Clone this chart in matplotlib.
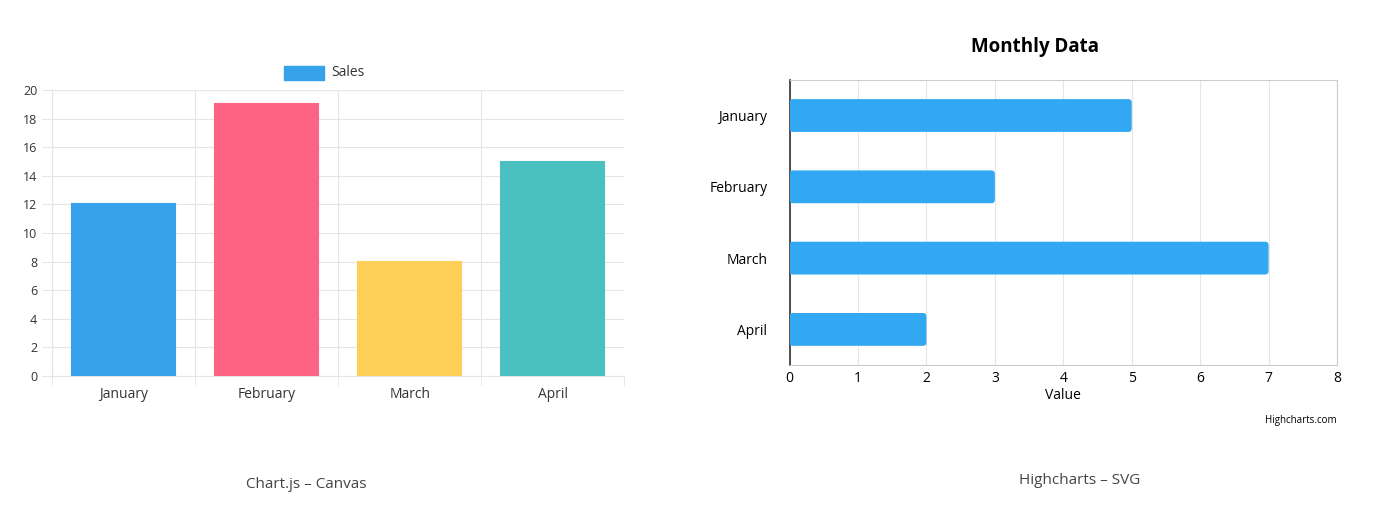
import matplotlib
matplotlib.use("Agg")
import matplotlib.pyplot as plt
from matplotlib.patches import FancyBboxPatch

months = ["January", "February", "March", "April"]
sales = [12, 19, 8, 15]
sales_colors = ["#36A2EB", "#FF6384", "#FFCE56", "#4BC0C0"]
hc_values = [5, 3, 7, 2]

plt.rcParams['font.family'] = ['Open Sans', 'DejaVu Sans']
fig = plt.figure(figsize=(14, 5.12), dpi=100)

# Left: Chart.js
ax = fig.add_axes([0.037, 0.266, 0.409, 0.558])
x = range(len(months))
ax.bar(x, sales, width=0.72, color=sales_colors, edgecolor=sales_colors, linewidth=1.5, zorder=3)
ax.set_xlim(-0.5, 3.5)
ax.set_ylim(0, 20)
ax.set_yticks(range(0, 21, 2))
ax.set_xticks(list(x))
ax.set_xticklabels(months)
ax.set_xticks([-0.5, 0.5, 1.5, 2.5, 3.5], minor=True)
ax.grid(axis='y', color='#e5e5e5', lw=0.8, zorder=0)
ax.grid(axis='x', which='minor', color='#e5e5e5', lw=0.8, zorder=0)
ax.tick_params(axis='x', which='major', length=0, labelsize=10, pad=8, colors='#333')
ax.tick_params(axis='x', which='minor', length=7, color='#e5e5e5')
ax.tick_params(axis='y', length=7, color='#e5e5e5', labelsize=9, colors='#333')
for s in ax.spines.values():
    s.set_color('#e5e5e5')
ax.spines['top'].set_visible(False)
ax.spines['right'].set_visible(False)
fig.patches.append(plt.Rectangle((284/1400, 1-80/512), 40/1400, 14/512, color="#36A2EB", transform=fig.transFigure))
fig.text(331/1400, 1-72/512, "Sales", fontsize=10, color='#333', va='center')
fig.text(306/1400, 1-484/512, "Chart.js – Canvas", fontsize=11, color='#444', ha='center', va='center')

# Right: Highcharts
ax2 = fig.add_axes([0.564, 0.287, 0.391, 0.557])
ax2.set_xlim(0, 8)
ax2.set_ylim(3.5, -0.5)
for i, v in enumerate(hc_values):
    ax2.add_patch(FancyBboxPatch((0, i - 0.23), v, 0.46, boxstyle="round,pad=0,rounding_size=0.05",
                                 mutation_aspect=1/ (8/4) * 2, fc="#32A7F2", ec="none", zorder=3))
ax2.set_yticks(range(4))
ax2.set_yticklabels(months)
ax2.set_xticks(range(9))
ax2.grid(axis='x', color='#e6e6e6', lw=0.8, zorder=0)
ax2.tick_params(axis='y', length=0, labelsize=10, pad=16)
ax2.tick_params(axis='x', length=0, labelsize=10, pad=4)
ax2.spines['left'].set_color('#333')
ax2.spines['left'].set_linewidth(1.2)
for k in ['top', 'right', 'bottom']:
    ax2.spines[k].set_color('#cccccc')
ax2.set_xlabel("Value", fontsize=10, labelpad=2)
fig.text(1035/1400, 1-47/512, "Monthly Data", fontsize=13.5, fontweight='bold', ha='center', va='center')
fig.text(1337/1400, 1-421/512, "Highcharts.com", fontsize=7, ha='right', va='center')
fig.text(1080/1400, 1-480/512, "Highcharts – SVG", fontsize=11, color='#444', ha='center', va='center')

fig.savefig("out.png", dpi=100)
